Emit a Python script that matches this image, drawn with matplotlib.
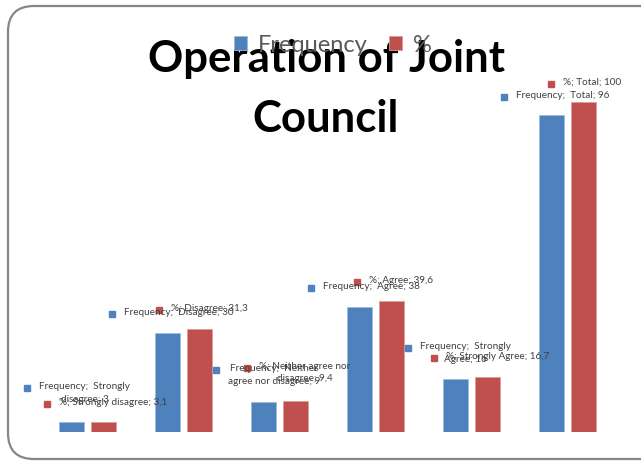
import numpy as np
import matplotlib
matplotlib.use("Agg")
import matplotlib.pyplot as plt
from matplotlib.patches import FancyBboxPatch
from matplotlib.transforms import IdentityTransform, offset_copy

categories = ["Strongly disagree", "Disagree", "Neither agree nor disagree",
              "Agree", "Strongly Agree", "Total"]
frequency = [3, 30, 9, 38, 16, 96]
percent = [3.1, 31.3, 9.4, 39.6, 16.7, 100]

freq_labels = ["Frequency;  Strongly\ndisagree; 3", "Frequency;  Disagree; 30",
               "Frequency;  Neither\nagree nor disagree; 9", "Frequency;  Agree; 38",
               "Frequency;  Strongly\nAgree; 16", "Frequency;  Total; 96"]
pct_labels = ["%; Strongly disagree; 3,1", "%; Disagree; 31,3",
              "%; Neither agree nor\ndisagree; 9,4", "%; Agree; 39,6",
              "%; Strongly Agree; 16,7", "%; Total; 100"]

# marker offsets (pixels) of each data label from the top of its bar
freq_off = [(-44, 34), (-55, 19), (-47, 32), (-48, 19), (-47, 31), (-47, 18)]
pct_off = [(-56, 18), (-40, 19), (-48, 33), (-34, 19), (-53, 19), (-32, 18)]

BLUE = "#4F81BD"
RED = "#C0504D"
TXT = "#404040"

plt.rcParams["font.family"] = ["Lato", "DejaVu Sans"]

fig = plt.figure(figsize=(6.41, 4.62), dpi=100)
W, H = 641, 462
ax = fig.add_axes([39 / W, 30 / H, 576 / W, 363 / H])
ax.set_xlim(-0.5, 5.5)
ax.set_ylim(0, 110)
ax.axis("off")

x = np.arange(len(categories))
w = 25 / 96
d = 16 / 96
b1 = ax.bar(x - d, frequency, w, color=BLUE, edgecolor="#9db8dc", linewidth=0.6, label="Frequency")
b2 = ax.bar(x + d, percent, w, color=RED, edgecolor="#dc9c9a", linewidth=0.6, label="%")


def data_label(xv, yv, text, color, off):
    dx, dy = off
    tr = offset_copy(ax.transData, fig=fig, x=dx, y=dy, units="dots")
    ax.plot([xv], [yv], "s", ms=5, color=color, transform=tr, clip_on=False, zorder=5)
    ax.annotate(text, (xv, yv), xytext=(dx + 12, dy + 6), textcoords="offset pixels",
                ha="left", va="top", multialignment="center", fontsize=7.2,
                color=TXT, linespacing=1.5, annotation_clip=False, zorder=6)


for i in range(len(categories)):
    data_label(x[i] - d, frequency[i], freq_labels[i], BLUE, freq_off[i])
    data_label(x[i] + d, percent[i], pct_labels[i], RED, pct_off[i])

fig.text(326 / W, 1 - 59 / H, "Operation of Joint", ha="center", va="center",
         fontsize=31.5, fontweight="bold", color="black", zorder=2)
fig.text(326 / W, 1 - 119 / H, "Council", ha="center", va="center",
         fontsize=31.5, fontweight="bold", color="black", zorder=2)

leg = fig.legend(handles=[b1, b2], labels=["Frequency", "%"], loc="center",
                 bbox_to_anchor=(333 / W, 1 - 45 / H), ncol=2, frameon=False,
                 fontsize=17, handlelength=0.55, handleheight=0.55, handletextpad=0.45,
                 columnspacing=0.9, labelcolor="#595959")
leg.set_zorder(10)

border = FancyBboxPatch((8, 3), 660, 453, boxstyle="round,pad=0,rounding_size=26",
                        transform=IdentityTransform(), facecolor="none",
                        edgecolor="#868686", linewidth=1.6)
fig.patches.append(border)

fig.savefig("out.png", dpi=100)
